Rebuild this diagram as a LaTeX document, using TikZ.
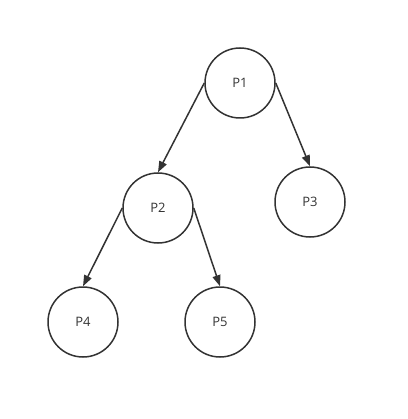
\documentclass[tikz,border=0pt]{standalone}
\usepackage{fontspec}
\setsansfont{Open Sans}
\usetikzlibrary{arrows.meta}

\begin{document}
\begin{tikzpicture}[x=1pt,y=-1pt,>={Triangle[length=11pt,width=8pt]},line width=1.5pt]

  \tikzstyle{proc}=[circle,draw=black!80,minimum size=70pt,inner sep=0pt,
                    text=black!80,font=\sffamily\fontsize{13}{15}\selectfont]
  \tikzstyle{link}=[->,draw=black!80]

  \useasboundingbox (0,0) rectangle (407,419);

  % processes
  \node [proc] (p1) at (240,83)  {P1};
  \node [proc] (p2) at (158,208) {P2};
  \node [proc] (p3) at (310,202) {P3};
  \node [proc] (p4) at (83,322)  {P4};
  \node [proc] (p5) at (220,322) {P5};

  \draw [link] (p1.west) -- (p2.north);
  \draw [link] (p1.east) -- (p3.north);
  \draw [link] (p2.west) -- (p4.north);
  \draw [link] (p2.east) -- (p5.north);
\end{tikzpicture}
\end{document}
